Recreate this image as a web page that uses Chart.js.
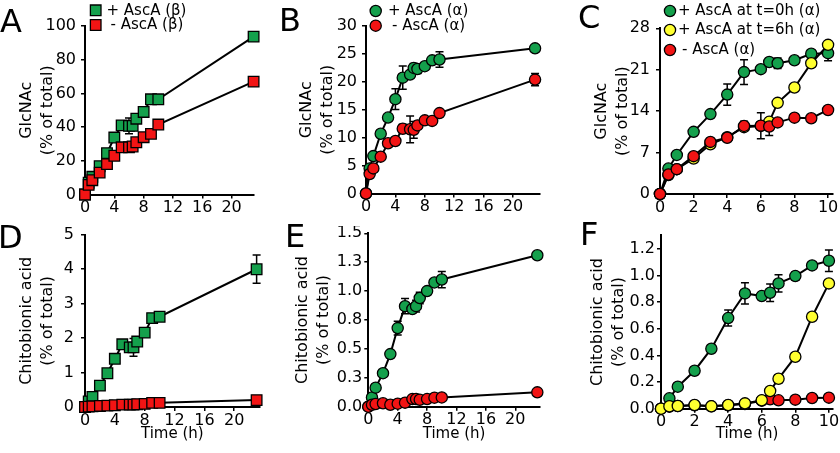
<!DOCTYPE html>
<html>
<head>
<meta charset="utf-8">
<script src="https://cdn.jsdelivr.net/npm/chart.js@4/dist/chart.umd.min.js"></script>
<style>
  body { margin: 0; background: #fff; }
  #fig { position: relative; width: 840px; height: 453px; overflow: hidden; }
  #fig canvas { position: absolute; }
  .tag { position: absolute; font: 32px 'DejaVu Sans', sans-serif; line-height: 1; color: #000; }
</style>
</head>
<body>
<div id="fig">
  <canvas id="cA" width="280" height="226" style="left:0px;top:0px"></canvas>
  <canvas id="cB" width="280" height="226" style="left:280px;top:0px"></canvas>
  <canvas id="cC" width="280" height="226" style="left:560px;top:0px"></canvas>
  <canvas id="cD" width="280" height="227" style="left:0px;top:226px"></canvas>
  <canvas id="cE" width="280" height="227" style="left:280px;top:226px"></canvas>
  <canvas id="cF" width="280" height="227" style="left:560px;top:226px"></canvas>
  <div class="tag" style="left:0px;top:5px">A</div>
  <div class="tag" style="left:279px;top:4px">B</div>
  <div class="tag" style="left:578px;top:1px">C</div>
  <div class="tag" style="left:-2px;top:221px">D</div>
  <div class="tag" style="left:285px;top:220px">E</div>
  <div class="tag" style="left:580px;top:218px">F</div>
</div>
<script>
Chart.defaults.font.family = "'DejaVu Sans', sans-serif";
Chart.defaults.color = "#000";

const GREEN = "#14a04c";
const RED = "#f21414";
const YELLOW = "#ffff30";
const RECT_R = 7.5;   // square side = r * sqrt(2)
const CIRC_R = 5.6;

// sampling times (h)
const timeLong = [0, 0.5, 1, 2, 3, 4, 5, 6, 6.5, 7, 8, 9, 10, 23];
const timeShort = [0, 0.5, 1, 2, 3, 4, 5, 6, 6.5, 7, 8, 9, 10];

// A - GlcNAc, beta-chitin
const aPlus = [0, 7, 10.5, 16.8, 24.5, 33.8, 41, 40.7, 40.7, 45, 49, 56.5, 56.5, 93.7];
const aPlusErr = [0, 0, 0, 0, 0, 0, 0, 4.7, 0, 0, 0, 0, 0, 1.5];
const aMinus = [0, 5.7, 8.5, 13, 18, 23, 28, 28, 28.5, 31, 34, 36, 41.5, 67];
const aMinusErr = [0, 0, 0, 0, 0, 0, 0, 0, 0, 0, 0, 0, 0, 0];

// B - GlcNAc, alpha-chitin
const bPlus = [0, 4.5, 6.7, 10.7, 13.6, 16.9, 20.75, 21.3, 22.5, 22.3, 22.8, 23.85, 24.0, 26.0];
const bPlusErr = [0, 0, 0, 0, 0, 1.85, 2.1, 0, 0.8, 0.8, 0, 0, 1.4, 0.4];
const bMinus = [0, 3.5, 4.5, 6.6, 9.0, 9.4, 11.6, 11.5, 11.4, 12.2, 13.1, 13.0, 14.4, 20.4];
const bMinusErr = [0, 0, 0, 0, 0, 0, 0.8, 2.4, 1.5, 0, 0.5, 0, 0.4, 1.1];

// C - GlcNAc, AscA added at 0 h / 6 h
const cPlus0 = [0, 4.3, 6.6, 10.5, 13.5, 16.8, 20.6, 21.1, 22.3, 22.1, 22.6, 23.7, 23.8];
const cPlus0Err = [0, 0, 0, 0, 0, 1.8, 2.1, 0, 0.6, 0.9, 0.5, 0, 1.27];
const cPlus6 = [0, 3.2, 4.2, 6.0, 8.4, 9.6, 11.3, 11.5, 12.2, 15.4, 18.0, 22.1, 25.2];
const cPlus6Err = [0, 0, 0, 0, 0, 0, 0, 0, 0, 0, 0, 0, 0];
const cMinus = [0, 3.3, 4.2, 6.4, 8.8, 9.5, 11.5, 11.55, 11.4, 12.1, 12.9, 12.8, 14.2];
const cMinusErr = [0, 0, 0, 0, 0, 0, 0.8, 2.2, 1.5, 0, 0.5, 0, 0.5];

// D - chitobionic acid, beta-chitin
const dPlus = [0, 0.16, 0.29, 0.62, 0.98, 1.40, 1.82, 1.73, 1.73, 1.9, 2.16, 2.58, 2.62, 4.0];
const dPlusErr = [0, 0, 0, 0, 0, 0.08, 0, 0, 0.26, 0.1, 0, 0, 0, 0.41];
const dMinus = [0, 0.01, 0.02, 0.03, 0.04, 0.05, 0.07, 0.07, 0.07, 0.08, 0.09, 0.12, 0.12, 0.2];
const dMinusErr = [0, 0, 0, 0, 0, 0, 0, 0, 0, 0, 0, 0, 0, 0];

// E - chitobionic acid, alpha-chitin
const ePlus = [0, 0.08, 0.165, 0.29, 0.455, 0.68, 0.87, 0.845, 0.87, 0.94, 1.0, 1.075, 1.10, 1.31];
const ePlusErr = [0, 0, 0, 0, 0, 0.06, 0.065, 0, 0.05, 0.05, 0, 0, 0.07, 0.02];
const eMinus = [0, 0.017, 0.023, 0.03, 0.017, 0.026, 0.035, 0.066, 0.066, 0.06, 0.066, 0.078, 0.08, 0.124];
const eMinusErr = [0, 0, 0, 0, 0, 0, 0, 0, 0, 0, 0, 0, 0, 0];

// F - chitobionic acid, AscA added at 0 h / 6 h
const fPlus0 = [0, 0.078, 0.165, 0.285, 0.45, 0.68, 0.865, 0.845, 0.87, 0.94, 0.995, 1.075, 1.11];
const fPlus0Err = [0, 0, 0, 0, 0, 0.06, 0.08, 0, 0.065, 0.065, 0.03, 0.02, 0.08];
const fPlus6 = [0, 0.018, 0.02, 0.028, 0.018, 0.028, 0.04, 0.063, 0.133, 0.225, 0.39, 0.69, 0.94];
const fPlus6Err = [0, 0, 0, 0, 0, 0, 0, 0, 0, 0.03, 0, 0, 0];
const fMinus = [0, 0.015, 0.02, 0.025, 0.018, 0.025, 0.035, 0.06, 0.07, 0.063, 0.068, 0.08, 0.083];
const fMinusErr = [0, 0, 0, 0, 0, 0, 0, 0, 0, 0, 0, 0, 0];

// tick values and labels
const xTicksLong = [0, 4, 8, 12, 16, 20];
const xTicksShort = [0, 2, 4, 6, 8, 10];
const aYTicks = [0, 20, 40, 60, 80, 100];
const bYTicks = [0, 5, 10, 15, 20, 25, 30];
const cYTicks = [0, 7, 14, 21, 28];
const dYTicks = [0, 1, 2, 3, 4, 5];
const eYTicks = [0, 0.25, 0.5, 0.75, 1, 1.25, 1.5];
const eYLabels = ["0.0", "0.3", "0.5", "0.8", "1.0", "1.3", "1.5"];
const fYTicks = [0, 0.2, 0.4, 0.6, 0.8, 1.0, 1.2];
const fYLabels = ["0.0", "0.2", "0.4", "0.6", "0.8", "1.0", "1.2"];

// error bars drawn under the lines and symbols
const errorBars = {
    id: "errorBars",
    beforeDatasetsDraw(chart) {
        const { ctx, scales: { x, y } } = chart;
        ctx.save();
        ctx.strokeStyle = "#000";
        ctx.lineWidth = 1.5;
        chart.data.datasets.forEach((ds) => {
            ds.data.forEach((p, i) => {
                const e = ds.err[i];
                if (!e) return;
                const px = x.getPixelForValue(p.x);
                const y1 = y.getPixelForValue(p.y + e);
                const y2 = y.getPixelForValue(p.y - e);
                ctx.beginPath();
                ctx.moveTo(px, y1); ctx.lineTo(px, y2);
                ctx.moveTo(px - 4, y1); ctx.lineTo(px + 4, y1);
                ctx.moveTo(px - 4, y2); ctx.lineTo(px + 4, y2);
                ctx.stroke();
            });
        });
        ctx.restore();
    },
};

// small legend in the corner of the top panels
const keyBox = {
    id: "keyBox",
    afterDraw(chart, args, opts) {
        if (!opts.rows) return;
        const ctx = chart.ctx;
        ctx.save();
        ctx.font = "15px 'DejaVu Sans', sans-serif";
        ctx.textBaseline = "middle";
        chart.data.datasets.forEach((ds, i) => {
            const y = opts.rows[i];
            ctx.beginPath();
            if (ds.pointStyle === "rect") {
                const s = RECT_R * Math.SQRT1_2;
                ctx.rect(opts.x - s, y - s, 2 * s, 2 * s);
            } else {
                ctx.arc(opts.x, y, CIRC_R, 0, Math.PI * 2);
            }
            ctx.fillStyle = ds.pointBackgroundColor;
            ctx.fill();
            ctx.lineWidth = 1.3;
            ctx.strokeStyle = "#000";
            ctx.stroke();
            ctx.fillStyle = "#000";
            const shift = ds.label.startsWith("-") ? 4 : 0;
            ctx.fillText(ds.label, opts.textX + shift, y + 0.5);
        });
        ctx.restore();
    },
};

function makePanel(p) {
    const g = p.geo;
    const datasets = p.series.map((s) => ({
        label: s.label,
        data: p.time.map((t, i) => ({ x: t, y: s.values[i] })),
        err: s.err,
        order: s.order,
        borderColor: "#000",
        borderWidth: 2,
        tension: 0,
        pointStyle: s.shape,
        pointRadius: s.shape === "rect" ? RECT_R : CIRC_R,
        pointBackgroundColor: s.color,
        pointBorderColor: "#000",
        pointBorderWidth: 1.3,
        clip: false,
    }));
    return new Chart(document.getElementById(p.id), {
        type: "line",
        data: { datasets: datasets },
        options: {
            responsive: false,
            animation: false,
            devicePixelRatio: 1,
            layout: { padding: { left: 0, top: g.top, right: g.right, bottom: 0 } },
            plugins: {
                legend: { display: false },
                tooltip: { enabled: false },
                keyBox: p.key || {},
            },
            scales: {
                x: {
                    type: "linear",
                    min: 0,
                    max: p.xMax,
                    afterBuildTicks: (s) => { s.ticks = p.xTicks.map((v) => ({ value: v })); },
                    afterFit: (s) => { s.height = g.xH; s.paddingLeft = 0; s.paddingRight = 0; },
                    ticks: {
                        font: { size: 16, lineHeight: 1 },
                        padding: g.xPad,
                        maxRotation: 0,
                        autoSkip: false,
                        callback: (v) => String(v),
                    },
                    grid: { drawOnChartArea: false, tickLength: 4, color: "#000", lineWidth: 1.5 },
                    border: { color: "#000", width: 2 },
                    title: {
                        display: !!p.xTitle,
                        text: "Time (h)",
                        font: { size: 15, lineHeight: 1.2 },
                        padding: { top: 0, bottom: 10 },
                    },
                },
                y: {
                    type: "linear",
                    min: 0,
                    max: p.yMax,
                    afterBuildTicks: (s) => { s.ticks = p.yTicks.map((v) => ({ value: v })); },
                    afterFit: (s) => { s.width = g.yW; s.paddingTop = 0; s.paddingBottom = 0; },
                    ticks: {
                        font: { size: 16 },
                        padding: g.yPad,
                        autoSkip: false,
                        callback: (v, i) => (p.yLabels ? p.yLabels[i] : String(v)),
                    },
                    grid: { drawOnChartArea: false, tickLength: 4, color: "#000", lineWidth: 1.5 },
                    border: { color: "#000", width: 2 },
                    title: {
                        display: true,
                        text: p.yTitle,
                        font: { size: 16, lineHeight: 1.3 },
                        padding: { top: g.titlePad, bottom: 0 },
                    },
                },
            },
        },
        plugins: [errorBars, keyBox],
    });
}

const glcTitle = ["GlcNAc", "(% of total)"];
const chitoTitle = ["Chitobionic acid", "(% of total)"];

makePanel({
    id: "cA", time: timeLong, xMax: 23, yMax: 100, xTicks: xTicksLong, yTicks: aYTicks,
    yTitle: glcTitle,
    geo: { top: 26, right: 26.4, yW: 85, xH: 31.5, yPad: 5, xPad: 1.5, titlePad: 16.3 },
    series: [
        { label: "+ AscA (β)", values: aPlus, err: aPlusErr, color: GREEN, shape: "rect", order: 1 },
        { label: "- AscA (β)", values: aMinus, err: aMinusErr, color: RED, shape: "rect", order: 0 },
    ],
    key: { x: 95.7, textX: 106.5, rows: [10.3, 25] },
});

makePanel({
    id: "cB", time: timeLong, xMax: 23.7, yMax: 30, xTicks: xTicksLong, yTicks: bYTicks,
    yTitle: glcTitle,
    geo: { top: 26, right: 19.8, yW: 86, xH: 32.5, yPad: 5, xPad: 1.5, titlePad: 16.9 },
    series: [
        { label: "+ AscA (α)", values: bPlus, err: bPlusErr, color: GREEN, shape: "circle", order: 1 },
        { label: "- AscA (α)", values: bMinus, err: bMinusErr, color: RED, shape: "circle", order: 0 },
    ],
    key: { x: 95.7, textX: 108, rows: [11, 25.7] },
});

makePanel({
    id: "cC", time: timeShort, xMax: 10.3, yMax: 28, xTicks: xTicksShort, yTicks: cYTicks,
    yTitle: glcTitle,
    geo: { top: 28.3, right: 5.6, yW: 100, xH: 32, yPad: 6, xPad: 1.5, titlePad: 31.3 },
    series: [
        { label: "+ AscA at t=0h (α)", values: cPlus0, err: cPlus0Err, color: GREEN, shape: "circle", order: 2 },
        { label: "+ AscA at t=6h (α)", values: cPlus6, err: cPlus6Err, color: YELLOW, shape: "circle", order: 1 },
        { label: "- AscA (α)", values: cMinus, err: cMinusErr, color: RED, shape: "circle", order: 0 },
    ],
    key: { x: 110, textX: 118, rows: [11, 30, 50] },
});

makePanel({
    id: "cD", time: timeLong, xMax: 23.4, yMax: 5, xTicks: xTicksLong, yTicks: dYTicks,
    yTitle: chitoTitle, xTitle: true,
    geo: { top: 7.3, right: 20.4, yW: 85, xH: 46, yPad: 7, xPad: 1.5, titlePad: 16.3 },
    series: [
        { label: "+ AscA (β)", values: dPlus, err: dPlusErr, color: GREEN, shape: "rect", order: 1 },
        { label: "- AscA (β)", values: dMinus, err: dMinusErr, color: RED, shape: "rect", order: 0 },
    ],
});

makePanel({
    id: "cE", time: timeLong, xMax: 23.35, yMax: 1.5, xTicks: xTicksLong, yTicks: eYTicks, yLabels: eYLabels,
    yTitle: chitoTitle, xTitle: true,
    geo: { top: 7.3, right: 20.1, yW: 88.3, xH: 46.3, yPad: 2, xPad: 1.5, titlePad: 12.3 },
    series: [
        { label: "+ AscA (α)", values: ePlus, err: ePlusErr, color: GREEN, shape: "circle", order: 1 },
        { label: "- AscA (α)", values: eMinus, err: eMinusErr, color: RED, shape: "circle", order: 0 },
    ],
});

makePanel({
    id: "cF", time: timeShort, xMax: 10.25, yMax: 1.3, xTicks: xTicksShort, yTicks: fYTicks, yLabels: fYLabels,
    yTitle: chitoTitle, xTitle: true,
    geo: { top: 9.4, right: 5.1, yW: 101, xH: 44.3, yPad: 2, xPad: 1.5, titlePad: 27.9 },
    series: [
        { label: "+ AscA at t=0h (α)", values: fPlus0, err: fPlus0Err, color: GREEN, shape: "circle", order: 2 },
        { label: "+ AscA at t=6h (α)", values: fPlus6, err: fPlus6Err, color: YELLOW, shape: "circle", order: 0 },
        { label: "- AscA (α)", values: fMinus, err: fMinusErr, color: RED, shape: "circle", order: 1 },
    ],
});
</script>
</body>
</html>
